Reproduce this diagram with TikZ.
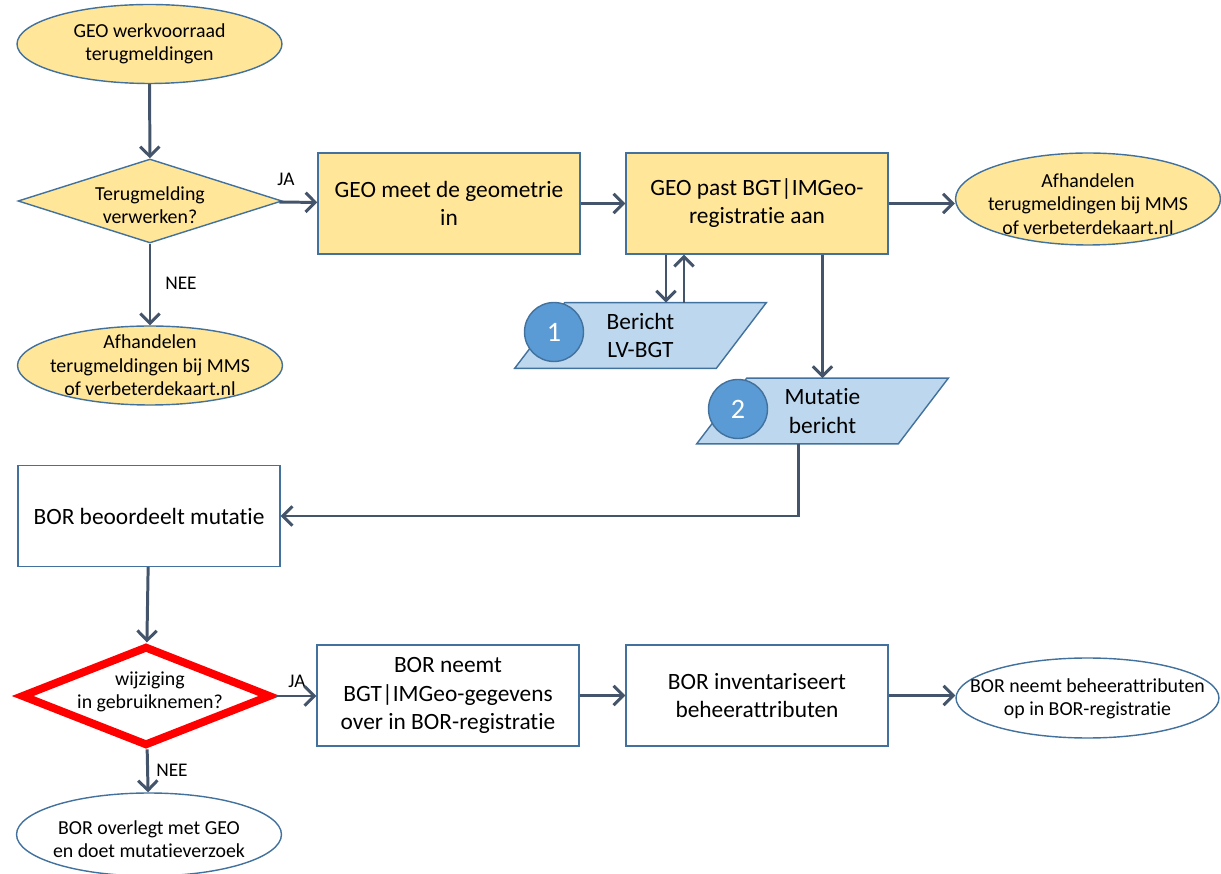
\documentclass[tikz,border=0pt]{standalone}
\usepackage{fontspec}
\setmainfont[Ligatures={NoCommon}]{Carlito}
\usetikzlibrary{shapes.geometric, arrows.meta, calc, backgrounds}
\definecolor{geoyellow}{HTML}{FFE699}
\definecolor{lineblue}{HTML}{41719C}
\definecolor{arrowgrey}{HTML}{44546A}
\definecolor{msgblue}{HTML}{BDD7EE}
\definecolor{numblue}{HTML}{5B9BD5}
\tikzstyle{box}=[rectangle, draw=lineblue, line width=.8pt, fill=white, minimum width=5.24cm, minimum height=2.02cm, align=center, font=\fontsize{13.3}{16}\selectfont]
\tikzstyle{geobox}=[box, fill=geoyellow]
\tikzstyle{oval}=[ellipse, draw=lineblue, line width=.8pt, fill=white, minimum width=5.3cm, minimum height=1.58cm, inner sep=0pt]
\tikzstyle{geooval}=[oval, fill=geoyellow]
\tikzstyle{ovaltext}=[align=center, inner sep=0pt, font=\fontsize{11.3}{13.3}\selectfont]
\tikzstyle{choice}=[diamond, draw=lineblue, line width=.8pt, fill=geoyellow, inner sep=0pt, minimum width=5.28cm, minimum height=1.68cm]
\tikzstyle{msgbox}=[rectangle, inner sep=0pt, minimum width=5.02cm, minimum height=1.3cm, align=center, font=\fontsize{13.3}{16}\selectfont]
\tikzstyle{msg}=[draw=lineblue, line width=.8pt, fill=msgblue]
\tikzstyle{num}=[circle, draw=lineblue, line width=.8pt, fill=numblue, minimum size=1.18cm, inner sep=0pt, text=white, font=\fontsize{16}{18}\selectfont]
\tikzstyle{arr}=[draw=arrowgrey, line width=1.7pt, -{Straight Barb[length=5.5pt,width=11pt]}]
\tikzstyle{lbl}=[inner sep=0pt, font=\fontsize{11}{13}\selectfont]

\begin{document}
\begin{tikzpicture}[x=0.02cm, y=-0.02cm]
      \useasboundingbox (0,0) rectangle (1221,874);

      \node[geooval] (e1) at (149.5,44) {};
      \node[ovaltext] (e1t) at (e1) {GEO werkvoorraad\\terugmeldingen};

      \node[choice] (d1) at (150,201) {};
      \node[ovaltext] (d1t) at (150,205) {Terugmelding\\verwerken?};

      \node[geooval] (e2) at (150,365.5) {};
      \node[ovaltext] (e2t) at (e2) {Afhandelen\\terugmeldingen bij MMS\\of verbeterdekaart.nl};

      \node[geobox] (b1) at (449,203.5) {GEO meet de geometrie\\in};
      \node[geobox] (b2) at (757,203.5) {GEO past BGT|IMGeo-\\registratie aan};

      \node[geooval, minimum height=1.84cm] (e3) at (1088,199) {};
      \node[ovaltext] (e3t) at (1088,204) {Afhandelen\\terugmeldingen bij MMS\\of verbeterdekaart.nl};

      \node[msgbox] (p1) at (640.5,335.5) {Bericht\\LV-BGT};
      \node[msgbox] (p2) at (822.5,411) {Mutatie\\bericht};
      \begin{scope}[on background layer]
        \draw[msg] ($(p1.north west)+(50,0)$) -- (p1.north east) -- ($(p1.south east)+(-50,0)$) -- (p1.south west) -- cycle;
        \draw[msg] ($(p2.north west)+(50,0)$) -- (p2.north east) -- ($(p2.south east)+(-50,0)$) -- (p2.south west) -- cycle;
      \end{scope}
      \node[num] (c1) at (554,332) {1};
      \node[num] (c2) at (738,409) {2};

      \node[box] (b3) at (149,516) {BOR beoordeelt mutatie};

      \node[choice, draw=red, line width=4.5pt, fill=white, minimum width=5cm, minimum height=2cm] (d2) at (146,696) {};
      \node[ovaltext] (d2t) at (150,692) {wijziging\\in gebruiknemen?};

      \node[oval, minimum height=1.66cm] (e5) at (149,834.5) {};
      \node[ovaltext] (e5t) at (149,839) {BOR overlegt met GEO\\en doet mutatieverzoek};

      \node[box] (b4) at (448,695.5) {BOR neemt\\BGT|IMGeo-gegevens\\over in BOR-registratie};
      \node[box] (b5) at (757,695.5) {BOR inventariseert\\beheerattributen};

      \node[oval, minimum width=5.26cm, minimum height=1.6cm] (e4) at (1087.5,698) {};
      \node[ovaltext] (e4t) at (1087.5,699) {BOR neemt beheerattributen\\op in BOR-registratie};

      \node[lbl] (ja1) at (286,179) {JA};
      \node[lbl] (nee1) at (181,283) {NEE};
      \node[lbl] (ja2) at (297,681) {JA};
      \node[lbl] (nee2) at (172,770) {NEE};

      \coordinate (p1in) at ([xshift=0.51cm]p1.north);
      \coordinate (p1out) at ([xshift=0.87cm]p1.north);
      \coordinate (p2out) at ([xshift=-0.49cm]p2.south);

      \draw[arr] (e1) -- (d1);
      \draw[arr] (d1) -- (b1);
      \draw[arr] (d1) -- (e2);
      \draw[arr] (b1) -- (b2);
      \draw[arr] (b2.east) -- (e3.west |- b2.east);
      \draw[arr] (b2.south -| p1in) -- (p1in);
      \draw[arr] (p1out) -- (b2.south -| p1out);
      \draw[arr] (b2.south -| p2.north) -- (p2.north);
      \draw[arr] (p2out) |- (b3.east);

      \draw[arr] (b3) -- (d2);
      \draw[arr] (d2.east) -- (b4.west |- d2.east);
      \draw[arr] (d2) -- (e5);
      \draw[arr] (b4) -- (b5);
      \draw[arr] (b5.east) -- (e4.west |- b5.east);
    \end{tikzpicture}
\end{document}
